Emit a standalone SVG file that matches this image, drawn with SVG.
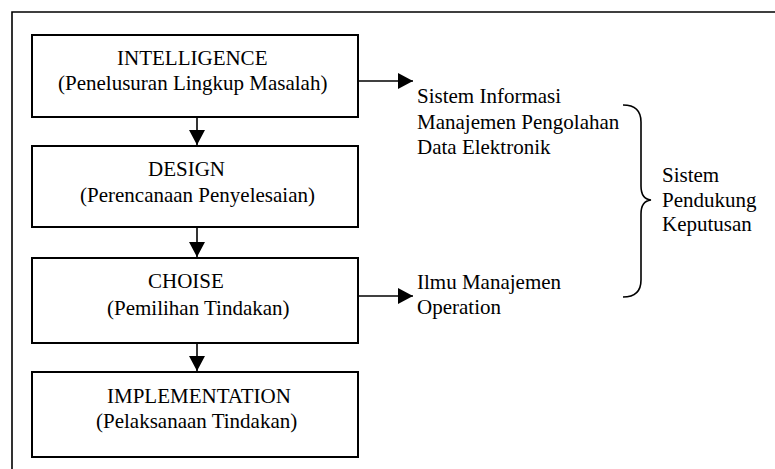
<svg xmlns="http://www.w3.org/2000/svg" width="775" height="469" viewBox="0 0 775 469">
<defs>
<style>
.box{fill:#fff;stroke:#000;stroke-width:2}
.t{font-family:"Liberation Serif","Times New Roman",serif;font-size:21px;fill:#000}
.c{fill:none;stroke:#000;stroke-width:1.6}
</style>
<marker id="ah" markerUnits="userSpaceOnUse" markerWidth="16" markerHeight="16" refX="15" refY="8" orient="auto" viewBox="0 0 16 16">
<path d="M0,0 L15,8 L0,16 Z" fill="#000"/>
</marker>
</defs>
<rect width="775" height="469" fill="#fff"/>
<path d="M12,469 V12 H775" fill="none" stroke="#000" stroke-width="1.6"/>
<g id="intelligence">
<rect class="box" x="32" y="35" width="326" height="82"/>
<text class="t" x="117" y="65">INTELLIGENCE</text>
<text class="t" x="58" y="90">(Penelusuran Lingkup Masalah)</text>
</g>
<g id="design">
<rect class="box" x="32" y="146" width="326" height="81"/>
<text class="t" x="148" y="176">DESIGN</text>
<text class="t" x="80" y="202">(Perencanaan Penyelesaian)</text>
</g>
<g id="choise">
<rect class="box" x="32" y="258" width="326" height="85"/>
<text class="t" x="148" y="288">CHOISE</text>
<text class="t" x="107" y="315">(Pemilihan Tindakan)</text>
</g>
<g id="implementation">
<rect class="box" x="32" y="372" width="326" height="85"/>
<text class="t" x="107" y="403">IMPLEMENTATION</text>
<text class="t" x="96" y="428">(Pelaksanaan Tindakan)</text>
</g>
<g id="sim">
<text class="t" x="417" y="103">Sistem Informasi</text>
<text class="t" x="417" y="129">Manajemen Pengolahan</text>
<text class="t" x="417" y="154">Data Elektronik</text>
</g>
<g id="ilmu">
<text class="t" x="417" y="289">Ilmu Manajemen</text>
<text class="t" x="417" y="314">Operation</text>
</g>
<g id="spk">
<text class="t" x="662" y="182">Sistem</text>
<text class="t" x="662" y="206.5">Pendukung</text>
<text class="t" x="662" y="231">Keputusan</text>
</g>
<g id="connectors">
<line class="c" x1="197" y1="118" x2="197" y2="145" marker-end="url(#ah)"/>
<line class="c" x1="197" y1="228" x2="197" y2="257" marker-end="url(#ah)"/>
<line class="c" x1="197" y1="344" x2="197" y2="371" marker-end="url(#ah)"/>
<line class="c" x1="359" y1="81" x2="413" y2="81" marker-end="url(#ah)"/>
<line class="c" x1="359" y1="296" x2="413" y2="296" marker-end="url(#ah)"/>
<path class="c" d="M623,105 Q641,105 641,122 V186 Q641,199 651,200 Q641,201 641,214 V280 Q641,297 623,297"/>
</g>
</svg>
